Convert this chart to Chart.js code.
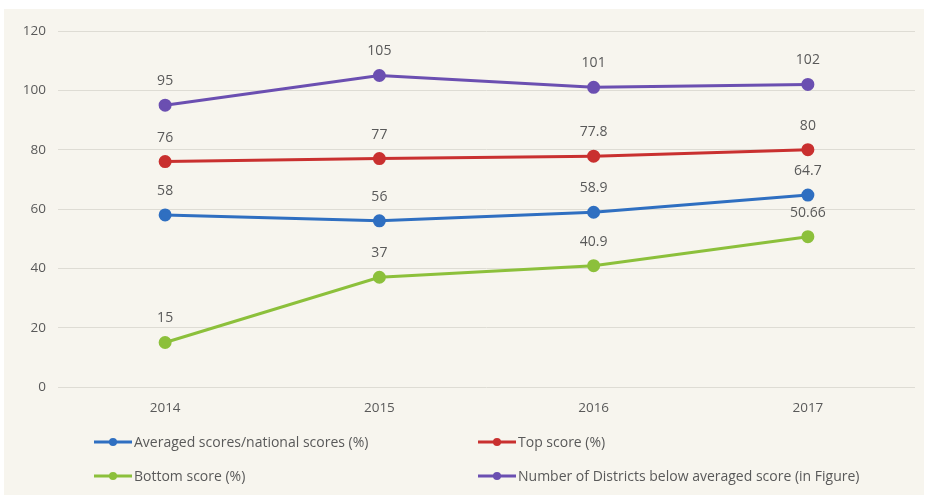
<!DOCTYPE html>
<html>
<head>
<meta charset="utf-8">
<script src="https://cdn.jsdelivr.net/npm/chart.js@4"></script>
<style>
  html, body { margin: 0; padding: 0; background: #ffffff; }
  #box { position: absolute; left: 4px; top: 9px; width: 920px; height: 486px; background: #f7f5ee; }
  #box canvas { display: block; }
</style>
</head>
<body>
<div id="box"><canvas id="chart" width="920" height="486"></canvas></div>
<script>
const years = ["2014", "2015", "2016", "2017"];
const seriesNames = [
  "Averaged scores/national scores (%)",
  "Top score (%)",
  "Bottom score (%)",
  "Number of Districts below averaged score (in Figure)"
];
const averaged = [58, 56, 58.9, 64.7];
const topScore = [76, 77, 77.8, 80];
const bottomScore = [15, 37, 40.9, 50.66];
const districtsBelow = [95, 105, 101, 102];
const yTicks = [0, 20, 40, 60, 80, 100, 120];

const colors = ["#2f6fc1", "#c9302f", "#8cc03b", "#6b4fb1"];
const font = "'Open Sans', sans-serif";

// value labels above each point
const pointLabels = {
  id: "pointLabels",
  afterDatasetsDraw(chart) {
    const ctx = chart.ctx;
    ctx.save();
    ctx.font = "14px " + font;
    ctx.fillStyle = "#595959";
    ctx.textAlign = "center";
    ctx.textBaseline = "middle";
    chart.data.datasets.forEach((ds, i) => {
      chart.getDatasetMeta(i).data.forEach((pt, j) => {
        ctx.fillText(String(ds.data[j]), pt.x, pt.y - 24);
      });
    });
    ctx.restore();
  }
};

// two-column legend under the axis
const gridLegend = {
  id: "gridLegend",
  afterDraw(chart) {
    const ctx = chart.ctx;
    const cols = [90, 474];
    const rows = [433, 467];
    ctx.save();
    ctx.font = "14px " + font;
    ctx.textBaseline = "middle";
    chart.data.datasets.forEach((ds, i) => {
      const x = cols[i % 2];
      const y = rows[Math.floor(i / 2)];
      ctx.strokeStyle = ds.borderColor;
      ctx.lineWidth = 3;
      ctx.beginPath();
      ctx.moveTo(x, y);
      ctx.lineTo(x + 38, y);
      ctx.stroke();
      ctx.fillStyle = ds.borderColor;
      ctx.beginPath();
      ctx.arc(x + 19, y, 4, 0, Math.PI * 2);
      ctx.fill();
      ctx.fillStyle = "#595959";
      ctx.fillText(ds.label, x + 40, y + 1);
    });
    ctx.restore();
  }
};

const values = [averaged, topScore, bottomScore, districtsBelow];

new Chart(document.getElementById("chart"), {
  type: "line",
  data: {
    labels: years,
    datasets: values.map((v, i) => ({
      label: seriesNames[i],
      data: v,
      borderColor: colors[i],
      backgroundColor: colors[i],
      borderWidth: 3,
      pointRadius: 5,
      pointHoverRadius: 5,
      tension: 0
    }))
  },
  options: {
    responsive: false,
    animation: false,
    layout: { padding: { top: 22, right: 9, bottom: 0, left: 0 } },
    plugins: { legend: { display: false }, tooltip: { enabled: false } },
    scales: {
      x: {
        offset: true,
        grid: { display: false, drawTicks: false },
        border: { display: false },
        ticks: { color: "#595959", font: { family: font, size: 13.5 }, padding: 13 },
        afterFit(scale) { scale.height = 108; }
      },
      y: {
        min: 0,
        max: 120,
        afterBuildTicks(scale) { scale.ticks = yTicks.map(v => ({ value: v })); },
        grid: { color: "#dedcd4", lineWidth: 1, drawTicks: false },
        border: { display: false },
        ticks: { color: "#595959", font: { family: font, size: 13.5 }, padding: 12 },
        afterFit(scale) { scale.width = 54; }
      }
    }
  },
  plugins: [pointLabels, gridLegend]
});
</script>
</body>
</html>
